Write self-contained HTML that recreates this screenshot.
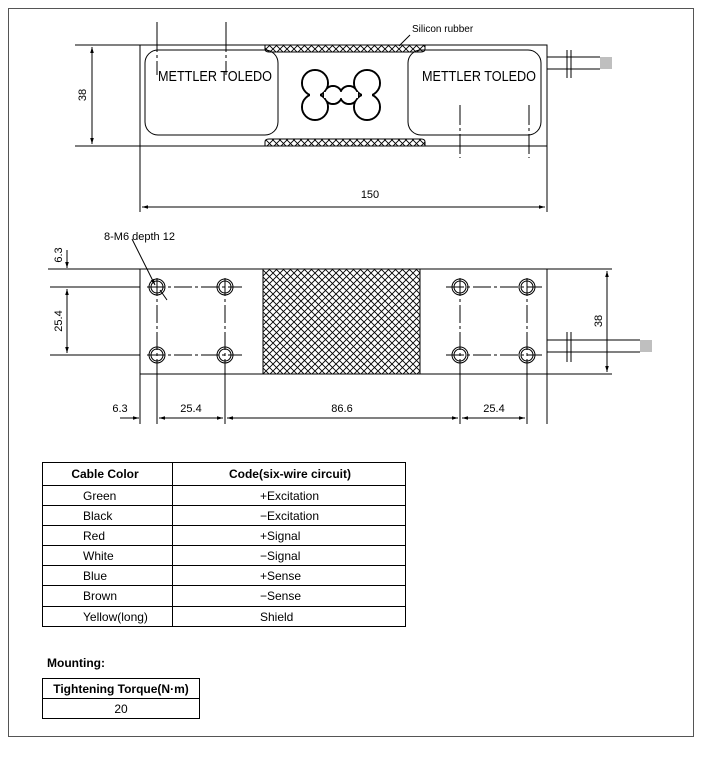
<!DOCTYPE html>
<html><head><meta charset="utf-8"><style>
html,body{margin:0;padding:0;background:#fff;}
svg{display:block;font-family:"Liberation Sans",sans-serif;}
</style></head><body>
<svg width="702" height="764" viewBox="0 0 702 764" xmlns="http://www.w3.org/2000/svg">
<defs>
<pattern id="h" width="7" height="7" patternUnits="userSpaceOnUse">
<path d="M0 0L7 7M7 0L0 7" stroke="#000" stroke-width="0.9"/>
</pattern>
<marker id="a" viewBox="0 0 10 10" refX="10" refY="5" markerWidth="8" markerHeight="6" orient="auto-start-reverse"><path d="M0 2L10 5L0 8z" fill="#000"/></marker>
</defs>
<rect x="8.5" y="8.5" width="685" height="728" fill="none" stroke="#555" stroke-width="1"/>
<g stroke="#000" stroke-width="1" fill="none">
<!-- top view -->
<rect x="140" y="45" width="407" height="101"/>
<line x1="75" y1="45" x2="140" y2="45"/><line x1="75" y1="146" x2="140" y2="146"/>
<line x1="92" y1="47" x2="92" y2="144" marker-start="url(#a)" marker-end="url(#a)"/>
<rect x="145" y="50" width="133" height="85" rx="13"/>
<rect x="408" y="50" width="133" height="85" rx="13"/>
<path d="M265 45h160v4q0 3 -4 3h-152q-4 0 -4 -3z" fill="url(#h)"/>
<path d="M265 146h160v-4q0 -3 -4 -3h-152q-4 0 -4 3z" fill="url(#h)"/>
<line x1="410" y1="35" x2="399" y2="46"/>
<line x1="157" y1="22" x2="157" y2="75" stroke-dasharray="30 3 3 3"/>
<line x1="226" y1="22" x2="226" y2="75" stroke-dasharray="30 3 3 3"/>
<line x1="460" y1="105" x2="460" y2="158" stroke-dasharray="20 3 3 3"/>
<line x1="529" y1="105" x2="529" y2="158" stroke-dasharray="20 3 3 3"/>
<line x1="547" y1="57" x2="600" y2="57"/><line x1="547" y1="69" x2="600" y2="69"/>
<line x1="567" y1="50" x2="567" y2="78"/><line x1="571" y1="50" x2="571" y2="78"/>
<path d="M600 58h12M600 60h12M600 62h12M600 64h12M600 66h12M600 68h12" stroke-width="0.6"/>
<line x1="140" y1="146" x2="140" y2="212"/><line x1="547" y1="146" x2="547" y2="212"/>
<line x1="142" y1="207" x2="545" y2="207" marker-start="url(#a)" marker-end="url(#a)"/>
</g>
<!-- dogbone -->
<g stroke="#000" stroke-width="2" fill="none">
<circle cx="315" cy="83" r="13"/><circle cx="367" cy="83" r="13"/>
<circle cx="315" cy="107" r="13"/><circle cx="367" cy="107" r="13"/>
<circle cx="333" cy="95" r="9"/><circle cx="349" cy="95" r="9"/>
</g>
<g fill="#fff">
<circle cx="315" cy="83" r="12"/><circle cx="367" cy="83" r="12"/>
<circle cx="315" cy="107" r="12"/><circle cx="367" cy="107" r="12"/>
<circle cx="333" cy="95" r="8"/><circle cx="349" cy="95" r="8"/>
<rect x="310" y="85" width="10" height="20"/><rect x="362" y="85" width="10" height="20"/>
<rect x="324" y="92" width="34" height="6"/>
</g>
<g font-size="15" fill="#000">
<text x="158" y="81" textLength="114" lengthAdjust="spacingAndGlyphs">METTLER TOLEDO</text>
<text x="422" y="81" textLength="114" lengthAdjust="spacingAndGlyphs">METTLER TOLEDO</text>
</g>
<text x="412" y="32" font-size="10">Silicon rubber</text>
<text x="86" y="95" font-size="11" transform="rotate(-90 86 95)" text-anchor="middle">38</text>
<text x="370" y="198" font-size="11" text-anchor="middle">150</text>

<!-- bottom view -->
<g stroke="#000" stroke-width="1" fill="none">
<rect x="140" y="269" width="407" height="105"/>
<rect x="263" y="269" width="157" height="105" fill="url(#h)"/>
<line x1="48" y1="269" x2="140" y2="269"/><line x1="50" y1="287" x2="140" y2="287"/><line x1="50" y1="355" x2="140" y2="355"/>
<line x1="547" y1="269" x2="612" y2="269"/><line x1="547" y1="374" x2="612" y2="374"/>
<line x1="67" y1="289" x2="67" y2="353" marker-start="url(#a)" marker-end="url(#a)"/>
<line x1="67" y1="250" x2="67" y2="268" marker-end="url(#a)"/>
<line x1="607" y1="271" x2="607" y2="372" marker-start="url(#a)" marker-end="url(#a)"/>
<g stroke-dasharray="18 3 3 3">
<line x1="147" y1="287" x2="242" y2="287"/><line x1="147" y1="355" x2="242" y2="355"/>
<line x1="446" y1="287" x2="542" y2="287"/><line x1="446" y1="355" x2="542" y2="355"/>
<line x1="157" y1="278" x2="157" y2="365"/><line x1="225" y1="278" x2="225" y2="365"/>
<line x1="460" y1="278" x2="460" y2="365"/><line x1="527" y1="278" x2="527" y2="365"/>
</g>
<g>
<circle cx="157" cy="287" r="6"/><circle cx="157" cy="287" r="8"/>
<circle cx="225" cy="287" r="6"/><circle cx="225" cy="287" r="8"/>
<circle cx="460" cy="287" r="6"/><circle cx="460" cy="287" r="8"/>
<circle cx="527" cy="287" r="6"/><circle cx="527" cy="287" r="8"/>
<circle cx="157" cy="355" r="6"/><circle cx="157" cy="355" r="8"/>
<circle cx="225" cy="355" r="6"/><circle cx="225" cy="355" r="8"/>
<circle cx="460" cy="355" r="6"/><circle cx="460" cy="355" r="8"/>
<circle cx="527" cy="355" r="6"/><circle cx="527" cy="355" r="8"/>
</g>
<line x1="132" y1="239" x2="155" y2="285" marker-end="url(#a)"/>
<line x1="167" y1="300" x2="160" y2="290"/>
<line x1="547" y1="340" x2="640" y2="340"/><line x1="547" y1="352" x2="640" y2="352"/>
<line x1="567" y1="332" x2="567" y2="362"/><line x1="571" y1="332" x2="571" y2="362"/>
<path d="M640 341h12M640 343h12M640 345h12M640 347h12M640 349h12M640 351h12" stroke-width="0.6"/>
<line x1="140" y1="374" x2="140" y2="424"/><line x1="157" y1="365" x2="157" y2="424"/>
<line x1="225" y1="365" x2="225" y2="424"/><line x1="460" y1="365" x2="460" y2="424"/>
<line x1="527" y1="365" x2="527" y2="424"/><line x1="547" y1="374" x2="547" y2="424"/>
<line x1="120" y1="418" x2="139" y2="418" marker-end="url(#a)"/>
<line x1="159" y1="418" x2="223" y2="418" marker-start="url(#a)" marker-end="url(#a)"/>
<line x1="227" y1="418" x2="458" y2="418" marker-start="url(#a)" marker-end="url(#a)"/>
<line x1="462" y1="418" x2="525" y2="418" marker-start="url(#a)" marker-end="url(#a)"/>
</g>
<g font-size="11" fill="#000">
<text x="104" y="240">8-M6 depth 12</text>
<text x="62" y="255" transform="rotate(-90 62 255)" text-anchor="middle">6.3</text>
<text x="62" y="321" transform="rotate(-90 62 321)" text-anchor="middle">25.4</text>
<text x="602" y="321" transform="rotate(-90 602 321)" text-anchor="middle">38</text>
<text x="120" y="412" text-anchor="middle">6.3</text>
<text x="191" y="412" text-anchor="middle">25.4</text>
<text x="342" y="412" text-anchor="middle">86.6</text>
<text x="494" y="412" text-anchor="middle">25.4</text>
</g>

<!-- table -->
<g stroke="#000" stroke-width="1" fill="none">
<rect x="42.5" y="462.5" width="363" height="164"/>
<line x1="172.5" y1="462" x2="172.5" y2="627"/>
<line x1="42" y1="485.5" x2="406" y2="485.5"/>
<line x1="42" y1="505.5" x2="406" y2="505.5"/>
<line x1="42" y1="525.5" x2="406" y2="525.5"/>
<line x1="42" y1="545.5" x2="406" y2="545.5"/>
<line x1="42" y1="565.5" x2="406" y2="565.5"/>
<line x1="42" y1="585.5" x2="406" y2="585.5"/>
<line x1="42" y1="606.5" x2="406" y2="606.5"/>
<rect x="42.5" y="678.5" width="157" height="40"/>
<line x1="42" y1="698.5" x2="200" y2="698.5"/>
</g>
<g font-size="12" fill="#000">
<text x="105" y="478" text-anchor="middle" font-weight="bold">Cable Color</text>
<text x="290" y="478" text-anchor="middle" font-weight="bold">Code(six-wire circuit)</text>
<text x="83" y="500">Green</text><text x="260" y="500">+Excitation</text>
<text x="83" y="520">Black</text><text x="260" y="520">−Excitation</text>
<text x="83" y="540">Red</text><text x="260" y="540">+Signal</text>
<text x="83" y="560">White</text><text x="260" y="560">−Signal</text>
<text x="83" y="580">Blue</text><text x="260" y="580">+Sense</text>
<text x="83" y="600">Brown</text><text x="260" y="600">−Sense</text>
<text x="83" y="621">Yellow(long)</text><text x="260" y="621">Shield</text>
<text x="47" y="667" font-weight="bold">Mounting:</text>
<text x="121" y="693" text-anchor="middle" font-weight="bold">Tightening Torque(N·m)</text>
<text x="121" y="713" text-anchor="middle">20</text>
</g>
</svg>
</body></html>
